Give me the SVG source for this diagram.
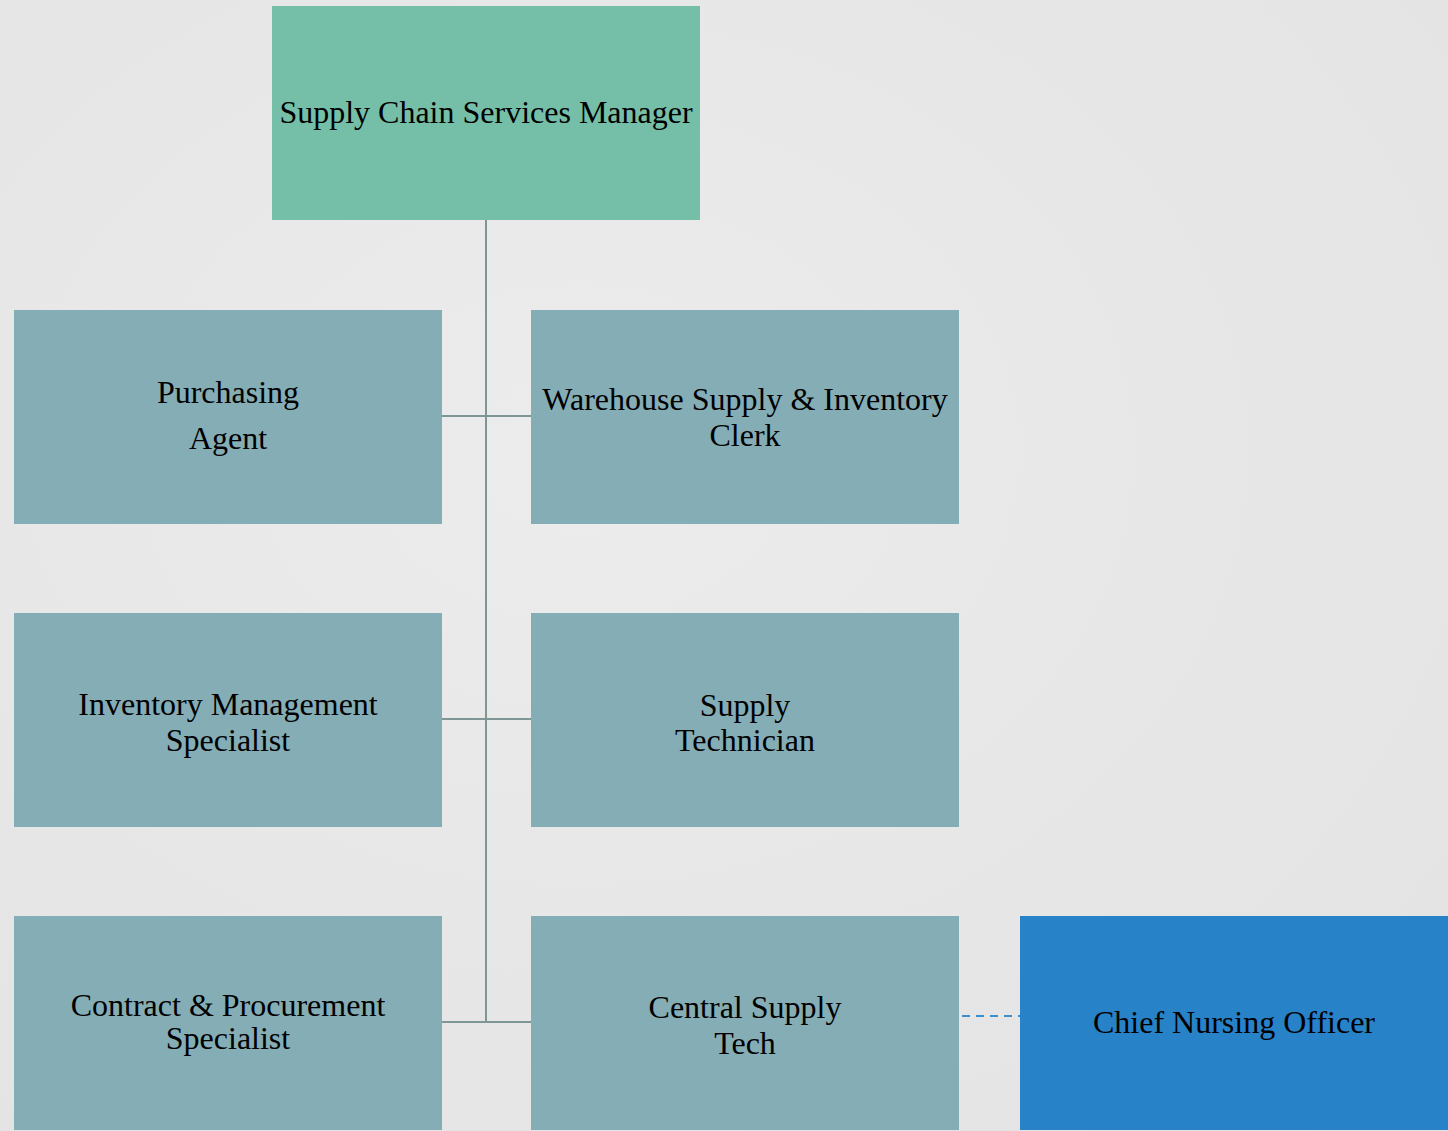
<svg xmlns="http://www.w3.org/2000/svg" width="1448" height="1131" viewBox="0 0 1448 1131">
<defs>
<radialGradient id="bg" cx="0.4" cy="0.4" r="0.8">
<stop offset="0" stop-color="#ececec"/>
<stop offset="1" stop-color="#e3e3e3"/>
</radialGradient>
</defs>
<style>
text{font-family:"Liberation Serif","Times New Roman",serif;font-size:32px;fill:#000;text-anchor:middle}
.sub{fill:#85adb6}
.top{fill:#75bfa8}
.cno{fill:#2882c8}
.ln{stroke:#7f9696;stroke-width:2;fill:none}
.dash{stroke:#3a8fd0;stroke-width:2;stroke-dasharray:8,6;fill:none}
</style>
<rect width="1448" height="1131" fill="url(#bg)"/>
<g id="connectors">
<path class="ln" d="M486 220V1022M442 416H531M442 719H531M442 1022H531"/>
<path class="dash" d="M962 1016H1020"/>
</g>
<g id="n-manager"><rect class="top" x="272" y="6" width="428" height="214"/><text x="486" y="123">Supply Chain Services Manager</text></g>
<g id="n-purchasing"><rect class="sub" x="14" y="310" width="428" height="214"/><text x="228" y="403">Purchasing</text><text x="228" y="449">Agent</text></g>
<g id="n-warehouse"><rect class="sub" x="531" y="310" width="428" height="214"/><text x="745" y="410">Warehouse Supply &amp; Inventory</text><text x="745" y="446">Clerk</text></g>
<g id="n-inventory"><rect class="sub" x="14" y="613" width="428" height="214"/><text x="228" y="715">Inventory Management</text><text x="228" y="751">Specialist</text></g>
<g id="n-supplytech"><rect class="sub" x="531" y="613" width="428" height="214"/><text x="745" y="716">Supply</text><text x="745" y="751">Technician</text></g>
<g id="n-contract"><rect class="sub" x="14" y="916" width="428" height="214"/><text x="228" y="1016">Contract &amp; Procurement</text><text x="228" y="1049">Specialist</text></g>
<g id="n-central"><rect class="sub" x="531" y="916" width="428" height="214"/><text x="745" y="1018">Central Supply</text><text x="745" y="1054">Tech</text></g>
<g id="n-cno"><rect class="cno" x="1020" y="916" width="428" height="214"/><text x="1234" y="1033">Chief Nursing Officer</text></g>
</svg>
